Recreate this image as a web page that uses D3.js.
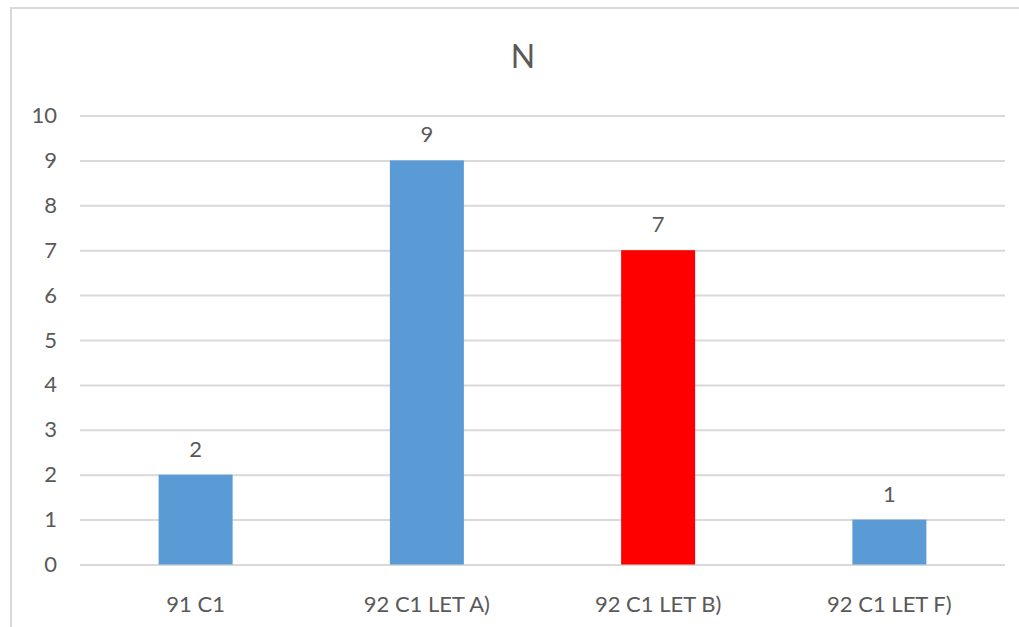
<!DOCTYPE html>
<html>
<head>
<meta charset="utf-8">
<script src="https://cdn.jsdelivr.net/npm/d3@7"></script>
<style>
  html, body { margin: 0; padding: 0; background: #fff; }
  svg { display: block; }
  text { font-family: Lato, "Open Sans", sans-serif; fill: #595959; }
</style>
</head>
<body>
<svg id="chart" width="1019" height="627"></svg>
<script>
// Chart data
const categories = ["91 C1", "92 C1 LET A)", "92 C1 LET B)", "92 C1 LET F)"];
const values = [2, 9, 7, 1];
const barColors = ["#5B9BD5", "#5B9BD5", "#FF0000", "#5B9BD5"];
const yTicks = [0, 1, 2, 3, 4, 5, 6, 7, 8, 9, 10];
const title = "N";

const svg = d3.select("#chart");
const W = 1019, H = 627;
const plot = { left: 80, right: 1005, top: 115.5, bottom: 564.5 };

// Outer chart frame
svg.append("rect")
  .attr("x", 11).attr("y", 8)
  .attr("width", W + 20).attr("height", H + 20)
  .attr("fill", "#fff")
  .attr("stroke", "#d9d9d9")
  .attr("stroke-width", 2);

const x = d3.scaleBand()
  .domain(categories)
  .range([plot.left, plot.right])
  .paddingInner(0.68)
  .paddingOuter(0.34);

const y = d3.scaleLinear()
  .domain([0, 10])
  .range([plot.bottom, plot.top]);

// Horizontal gridlines + value labels on the left
const yAxis = d3.axisLeft(y)
  .tickValues(yTicks)
  .tickSize(-(plot.right - plot.left))
  .tickPadding(23)
  .tickFormat(d3.format("d"));

const gy = svg.append("g")
  .attr("transform", `translate(${plot.left},0)`)
  .call(yAxis);
gy.select(".domain").remove();
gy.selectAll(".tick line").attr("stroke", "#d9d9d9").attr("stroke-width", 2);
gy.selectAll(".tick text")
  .attr("font-size", 22)
  .attr("fill", "#595959")
  .style("font-family", "Lato, sans-serif");

// Category axis
const xAxis = d3.axisBottom(x).tickSize(0).tickPadding(32);
const gx = svg.append("g")
  .attr("transform", `translate(0,${plot.bottom})`)
  .call(xAxis);
gx.select(".domain").remove();
gx.selectAll(".tick text")
  .attr("font-size", 22)
  .attr("fill", "#595959")
  .style("font-family", "Lato, sans-serif");

// Bars
svg.append("g").selectAll("rect")
  .data(categories)
  .join("rect")
  .attr("x", d => x(d))
  .attr("width", x.bandwidth())
  .attr("y", (d, i) => y(values[i]))
  .attr("height", (d, i) => y(0) - y(values[i]))
  .attr("fill", (d, i) => barColors[i]);

// Value labels above bars
svg.append("g").selectAll("text")
  .data(categories)
  .join("text")
  .attr("x", d => x(d) + x.bandwidth() / 2)
  .attr("y", (d, i) => y(values[i]) - 18)
  .attr("text-anchor", "middle")
  .attr("font-size", 22)
  .text((d, i) => values[i]);

// Title
svg.append("text")
  .attr("x", 523)
  .attr("y", 68)
  .attr("text-anchor", "middle")
  .attr("font-size", 32)
  .text(title);
</script>
</body>
</html>
